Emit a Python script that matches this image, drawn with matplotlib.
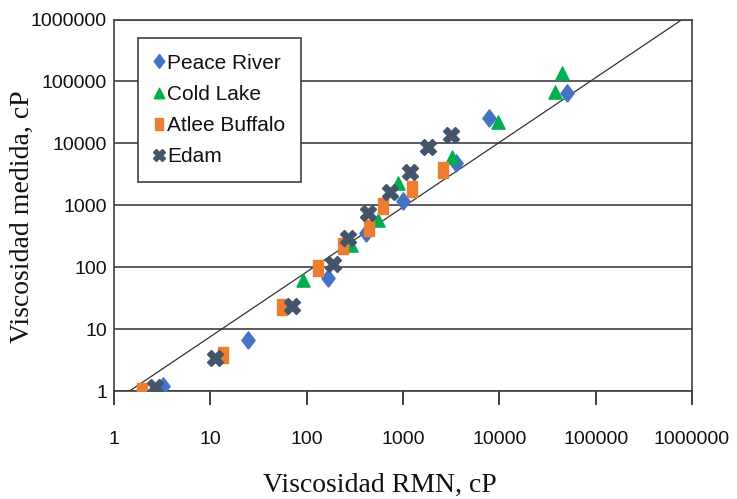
import matplotlib
matplotlib.use("Agg")
import matplotlib.pyplot as plt
from matplotlib.ticker import FixedLocator, FixedFormatter, NullLocator

# ---- data ----
peace_x = [3.2, 24.5, 166, 410, 1000, 3530, 7770, 50000]
peace_y = [1.2, 6.6, 67, 357, 1170, 4800, 25700, 65000]

cold_x = [91, 288, 550, 890, 3200, 9600, 37500, 44500]
cold_y = [62, 230, 580, 2290, 6000, 22000, 68000, 137000]

atlee_x = [1.95, 13.5, 55, 131, 238, 443, 615, 1230, 2580]
atlee_y = [1.0, 3.8, 23, 97, 220, 430, 975, 1830, 3700]

edam_x = [2.66, 11.2, 70, 188, 268, 430, 730, 1180, 1810, 3140]
edam_y = [1.16, 3.4, 23.6, 112, 295, 750, 1630, 3450, 8700, 13700]

line_x = [1.45, 7.9e5]
line_y = [1, 1e6]

tick_vals = [1, 10, 100, 1000, 10000, 100000, 1000000]
tick_labels = ["1", "10", "100", "1000", "10000", "100000", "1000000"]

series_names = ["Peace River", "Cold Lake", "Atlee Buffalo", "Edam"]
colors = ["#4472C4", "#00B050", "#ED7D31", "#44546A"]

# ---- figure ----
fig = plt.figure(figsize=(7.37, 4.99), dpi=100)
ax = fig.add_axes([114 / 737, 1 - 391 / 499, (692 - 114) / 737, (391 - 19.5) / 499])

ax.set_xscale("log")
ax.set_yscale("log")
ax.set_xlim(1, 1e6)
ax.set_ylim(1, 1e6)

grid_col = "#3f3f3f"
ax.xaxis.set_major_locator(FixedLocator(tick_vals))
ax.xaxis.set_major_formatter(FixedFormatter(tick_labels))
ax.yaxis.set_major_locator(FixedLocator(tick_vals))
ax.yaxis.set_major_formatter(FixedFormatter(tick_labels))
ax.xaxis.set_minor_locator(NullLocator())
ax.yaxis.set_minor_locator(NullLocator())

ax.yaxis.grid(True, color=grid_col, linewidth=1.2)
ax.set_axisbelow(True)
for s in ax.spines.values():
    s.set_color(grid_col)
    s.set_linewidth(1.2)

sans = ["Liberation Sans", "DejaVu Sans"]
serif = ["Liberation Serif", "DejaVu Serif"]

ax.tick_params(axis="x", direction="out", length=10, width=1.4, color=grid_col,
               pad=19, labelsize=14, labelcolor="#111111")
ax.tick_params(axis="y", length=0, pad=5, labelsize=14, labelcolor="#111111")
for lab in ax.get_xticklabels() + ax.get_yticklabels():
    lab.set_fontfamily(sans)

# reference line
ax.plot(line_x, line_y, color="#333333", linewidth=0.9, zorder=2)

# custom marker shapes (taller than wide, as in the reference)
diamond = [(0, -0.5), (0.38, 0), (0, 0.5), (-0.38, 0), (0, -0.5)]
triangle = [(-0.5, -0.5), (0.5, -0.5), (0, 0.5), (-0.5, -0.5)]
rect = [(-0.33, -0.5), (0.33, -0.5), (0.33, 0.5), (-0.33, 0.5), (-0.33, -0.5)]

ax.plot(peace_x, peace_y, linestyle="none", marker=diamond, ms=12.5,
        color=colors[0], mec=colors[0], label=series_names[0], zorder=3)
ax.plot(cold_x, cold_y, linestyle="none", marker=triangle, ms=9.5,
        color=colors[1], mec=colors[1], label=series_names[1], zorder=4)
ax.plot(atlee_x, atlee_y, linestyle="none", marker=rect, ms=11,
        color=colors[2], mec=colors[2], label=series_names[2], zorder=5)
ax.plot(edam_x, edam_y, linestyle="none", marker="X", ms=11,
        color=colors[3], mec=colors[3], label=series_names[3], zorder=6)

leg = ax.legend(loc="upper left", bbox_to_anchor=((138 - 114) / 578, (391 - 38) / 371.5),
                prop={"family": sans, "size": 15}, frameon=True, fancybox=False,
                edgecolor=grid_col, framealpha=1, handlelength=0.5, handletextpad=0.15,
                labelspacing=0.59, borderpad=0.75, borderaxespad=0, markerscale=0.8)
leg.get_frame().set_linewidth(1.2)
for t in leg.get_texts():
    t.set_color("#111111")

fig.text(380 / 737, 1 - 485 / 499, "Viscosidad RMN, cP", ha="center", va="center",
         fontfamily=serif, fontsize=20, color="#111111")
fig.text(22 / 737, 1 - 217 / 499, "Viscosidad medida, cP", ha="center", va="center",
         rotation=90, fontfamily=serif, fontsize=20, color="#111111")

fig.savefig("out.png", dpi=100)
